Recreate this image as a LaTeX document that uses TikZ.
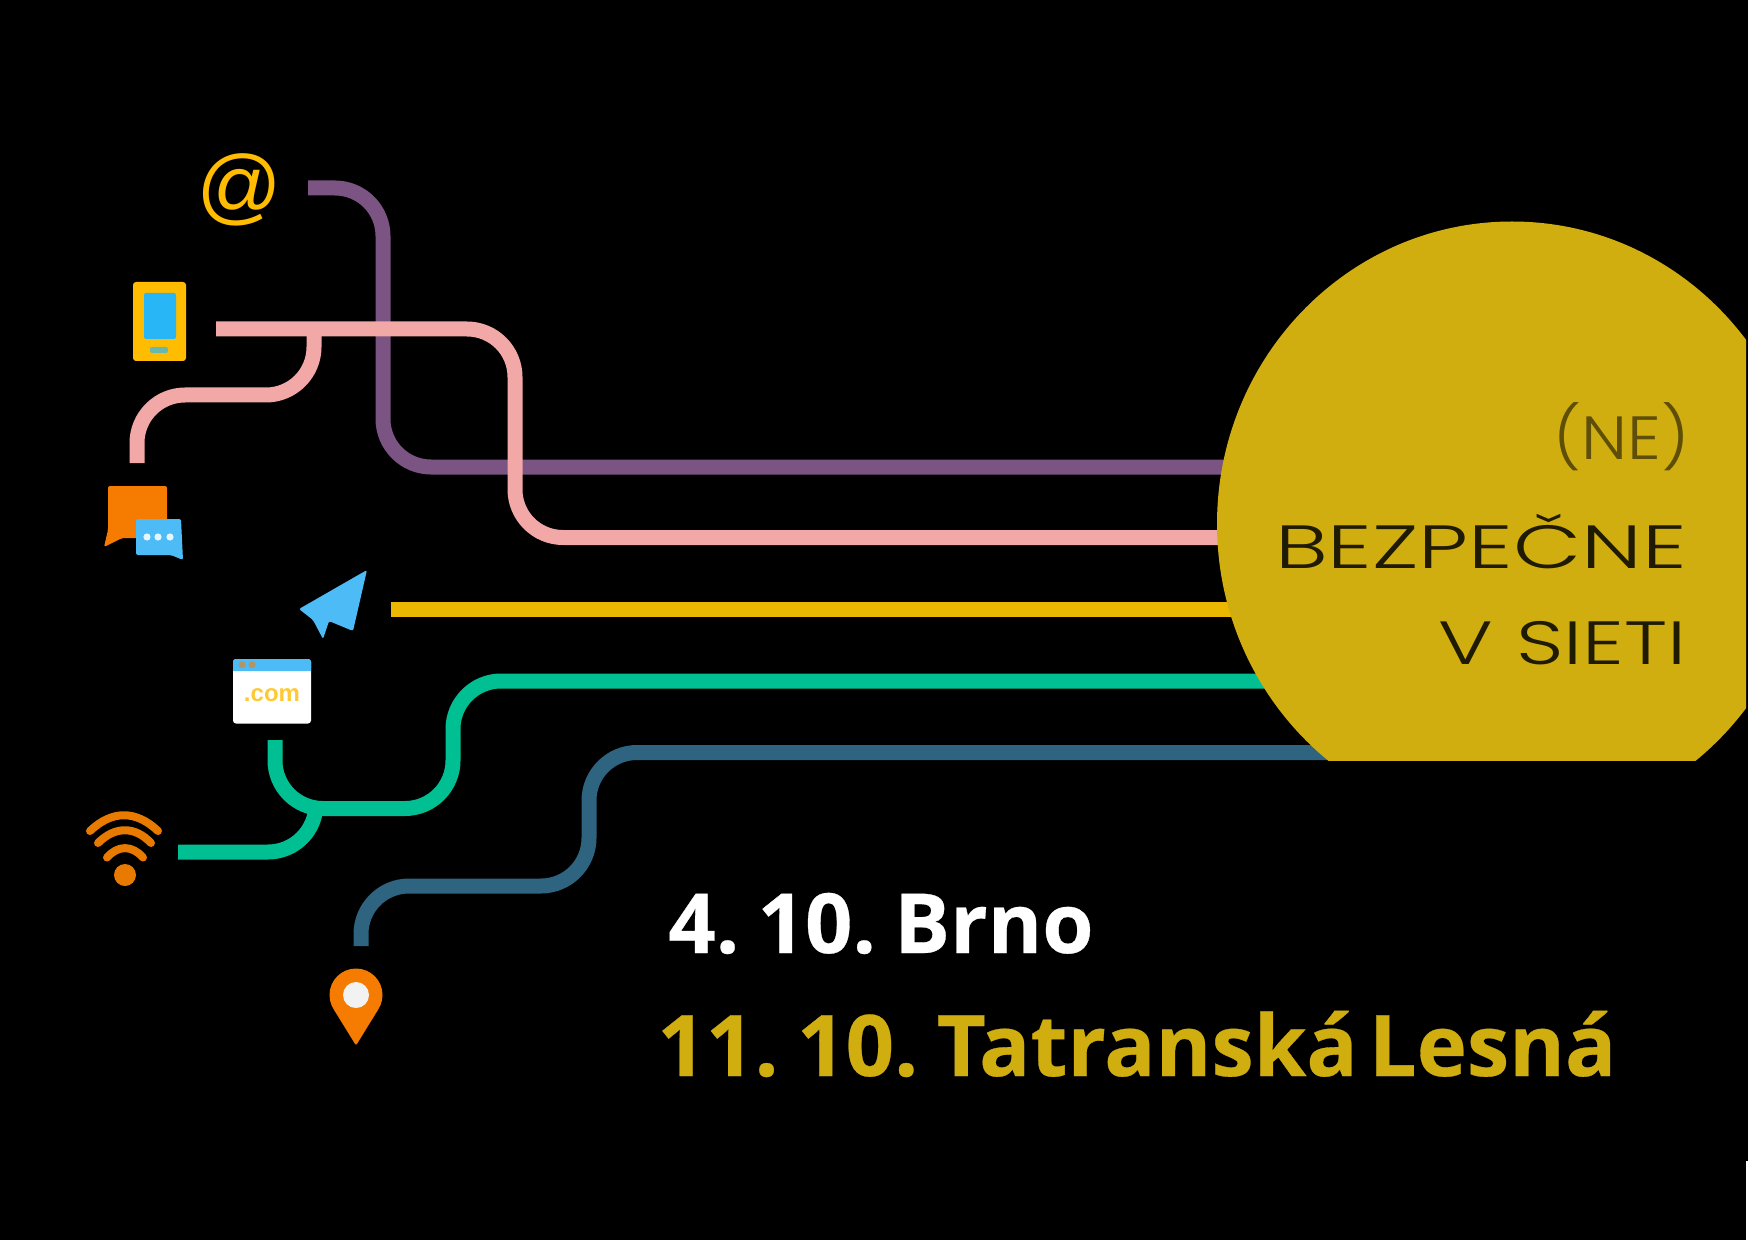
\documentclass[tikz,border=0pt]{standalone}
\usepackage{fontspec}
\usepackage{graphicx}
\usetikzlibrary{shapes.geometric}
\setmainfont{Open Sans}[BoldFeatures={FakeBold=0.35}]
\newfontfamily\techfont{Poppins Light}
\newfontfamily\atfont{Liberation Sans}
\newfontfamily\comfont{Liberation Sans}
\newcommand{\tightspace}{\spaceskip=5.5pt\relax}
\definecolor{cpurple}{HTML}{7B5483}
\definecolor{cpink}{HTML}{F2A8A6}
\definecolor{cyellow}{HTML}{EBB700}
\definecolor{cteal}{HTML}{00BF92}
\definecolor{cblue}{HTML}{2F6480}
\definecolor{cgold}{HTML}{D1AE10}
\definecolor{corange}{HTML}{F57C00}
\definecolor{csky}{HTML}{4DBBF5}
\definecolor{cphone}{HTML}{FFBC00}
\definecolor{cscreen}{HTML}{29B6F6}
\definecolor{cwifi}{HTML}{E87A00}
\tikzset{
  wire/.style={line width=7.5pt,line cap=butt,rounded corners=24pt},
  arcline/.style={draw=cwifi,line width=4pt,line cap=round},
  bigtext/.style={anchor=base west,inner sep=0pt},
  techtext/.style={anchor=base east,inner sep=0pt,text=black!85!cgold}
}
\begin{document}
\begin{tikzpicture}[x=0.5pt,y=-0.5pt]
\useasboundingbox (0,0) rectangle (1748,1240);
\fill[black] (0,0) rectangle (1748,1240);
% free ends of the connectors
\coordinate (pu1) at (308,188);
\coordinate (pu2) at (1240,467);
\coordinate (pi1) at (216,329);
\coordinate (pi2) at (1240,537.5);
\coordinate (pj) at (314,329);
\coordinate (pi3) at (137,463);
\coordinate (ye1) at (391,609.5);
\coordinate (ye2) at (1260,609.5);
\coordinate (te1) at (275,740);
\coordinate (te2) at (1290,681);
\coordinate (tj) at (316,808);
\coordinate (te3) at (178,852);
\coordinate (bl1) at (361,946);
\coordinate (bl2) at (1345,752.5);
% connectors
\draw[wire,cpurple] (pu1) -- (383,188) -- (383,467) -- (pu2);
\draw[wire,cpink] (pi1) -- (515,329) -- (515,537.5) -- (pi2);
\draw[wire,cpink] (pj) -- (314,395) -- (137,395) -- (pi3);
\draw[wire,cyellow] (ye1) -- (ye2);
\draw[wire,cteal] (te1) -- (275,808.5) -- (453,808.5) -- (453,681) -- (te2);
\draw[wire,cteal] (te3) -- (316,852) -- (tj);
\draw[wire,cblue] (bl1) -- (361,886) -- (589,886) -- (589,752.5) -- (bl2);
% disc, cut on the right and at the bottom
\begin{scope}
\clip (0,0) rectangle (1746,760.5);
\node[ellipse,fill=cgold,draw=none,inner sep=0pt,minimum width=295pt,minimum height=302.5pt] (disc) at (1512,524) {};
\end{scope}
\node[techtext] (ne) at (1690,459) {\scalebox{1.1}[1]{\fontsize{30.5}{30.5}\techfont\color{black!55!cgold}(NE)}};
\node[techtext] (bez) at (1687,568) {\scalebox{1.45}[1]{\fontsize{30.5}{30.5}\techfont BEZPEČNE}};
\node[techtext] (sieti) at (1687,664) {\scalebox{1.36}[1]{\fontsize{30.5}{30.5}\techfont V SIETI}};
% dates
\node[bigtext,text=white,font=\bfseries\fontsize{41.5}{41.5}\selectfont] (brno) at (668,953) {\tightspace 4. 10. Brno};
\node[bigtext,text=cgold,font=\bfseries\fontsize{42.5}{42.5}\selectfont] (tatry) at (657,1076) {\tightspace 11. 10. Tatranská Lesná};
% at sign
\node[inner sep=0pt,text=cphone] (at) at (238.5,190) {\fontsize{42}{42}\atfont\itshape @};
% phone
\node[fill=cphone,rounded corners=1.5pt,minimum width=26.5pt,minimum height=39.5pt,inner sep=0pt] (phone) at (159.5,321.5) {};
\fill[cscreen,rounded corners=1pt] (144,293) rectangle (176,339);
\fill[cscreen!70!cphone,rounded corners=1pt] (150,347) rectangle (168,353);
% chat
\fill[corange,rounded corners=1pt] (108,486) -- (167,486) -- (167,538) -- (122,538) -- (104,547) -- (108,530) -- cycle;
\fill[csky,rounded corners=1pt] (136,519) -- (181,519) -- (183,560) -- (171,555) -- (136,555) -- cycle;
\foreach \dx in {147,158,170} \fill[white!85!csky] (\dx,537) circle (1.8pt);
% paper plane
\fill[csky,rounded corners=1pt] (367,570) -- (353,631) -- (329,621) -- (323,639) -- (313,620) -- (299,609) -- cycle;
% browser window
\fill[white,rounded corners=1.5pt] (233,659) rectangle (311,723.5);
\fill[csky,rounded corners=1.5pt] (233,659) rectangle (311,671);
\fill[csky] (233,664) rectangle (311,671);
\fill[corange!60!csky] (242,664.7) circle (1.75pt) (252,664.7) circle (1.75pt);
\node[inner sep=0pt,text=cphone!80!white,font=\comfont\bfseries\fontsize{12}{12}\selectfont] (com) at (272,695) {.com};
% wifi
\draw[arcline] (90,831) .. controls (112,810) and (136,810) .. (158,831);
\draw[arcline] (98,843) .. controls (115,826) and (135,826) .. (151,843);
\draw[arcline] (107,857.5) .. controls (118,845) and (132,845) .. (143,857.5);
\fill[cwifi] (125,875) circle (5.5pt);
% pin
\fill[corange] (356,995) circle (13.25pt);
\fill[corange,rounded corners=1pt] (356,1045.5) -- (333.5,1009) -- (378.5,1009) -- cycle;
\fill[white!95!black] (356,995) circle (6.5pt);
% thin white line, lower right corner
\fill[white] (1746,1161) rectangle (1748,1240);
\end{tikzpicture}
\end{document}
